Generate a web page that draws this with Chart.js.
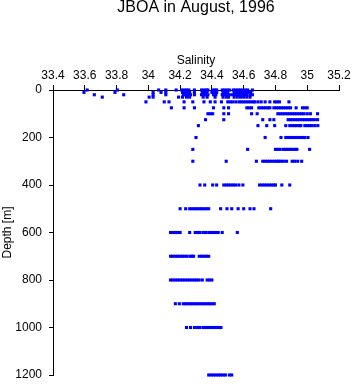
<!DOCTYPE html>
<html>
<head>
<meta charset="utf-8">
<script src="https://cdn.jsdelivr.net/npm/chart.js@4/dist/chart.umd.min.js"></script>
<style>
  html, body { margin: 0; padding: 0; background: #ffffff; }
  #wrap { width: 353px; height: 384px; }
</style>
</head>
<body>
<div id="wrap"><canvas id="c" width="353" height="384"></canvas></div>
<script>
const depthLevels = [0, 10, 20, 30, 50, 75, 100, 125, 150, 200, 250, 300, 400, 500, 600, 700, 800, 900, 1000, 1200];

const sal0 = [33.615, 33.805, 34.065, 34.11, 34.175, 34.21, 34.225, 34.24, 34.255, 34.29, 34.335, 34.35, 34.365, 34.375, 34.405, 34.42, 34.43, 34.465, 34.48, 34.495, 34.51, 34.535, 34.55, 34.565, 34.58, 34.595, 34.61, 34.625, 34.655];
const sal10 = [33.595, 33.79, 34.03, 34.08, 34.11, 34.215, 34.23, 34.245, 34.26, 34.29, 34.34, 34.355, 34.37, 34.40, 34.415, 34.43, 34.47, 34.485, 34.50, 34.54, 34.555, 34.57, 34.585, 34.60, 34.615, 34.63, 34.645];
const sal20 = [33.66, 33.845, 34.03, 34.11, 34.22, 34.235, 34.25, 34.265, 34.29, 34.335, 34.35, 34.36, 34.375, 34.41, 34.425, 34.465, 34.48, 34.495, 34.51, 34.53, 34.545, 34.56, 34.575, 34.59, 34.605, 34.62, 34.64, 34.655];
const sal30 = [33.71, 34.005, 34.03, 34.19, 34.215, 34.24, 34.26, 34.345, 34.37, 34.42, 34.47, 34.49, 34.505, 34.54, 34.56, 34.58, 34.60, 34.62, 34.64];
const sal50 = [33.985, 34.10, 34.13, 34.225, 34.28, 34.35, 34.39, 34.42, 34.46, 34.50, 34.515, 34.53, 34.55, 34.57, 34.585, 34.60, 34.615, 34.63, 34.645, 34.66, 34.67, 34.69, 34.71, 34.735, 34.765, 34.795, 34.81, 34.825, 34.885];
const sal75 = [34.145, 34.225, 34.29, 34.41, 34.475, 34.505, 34.62, 34.635, 34.65, 34.695, 34.71, 34.725, 34.74, 34.755, 34.765, 34.79, 34.805, 34.82, 34.835, 34.85, 34.865, 34.88, 34.895, 34.93, 34.97, 34.985, 35.0];
const sal100 = [34.375, 34.39, 34.405, 34.475, 34.505, 34.65, 34.685, 34.815, 34.83, 34.845, 34.86, 34.875, 34.89, 34.905, 34.92, 34.935, 34.95, 34.965, 34.98, 35.0, 35.02, 35.065];
const sal125 = [34.36, 34.475, 34.72, 34.765, 34.79, 34.88, 34.895, 34.91, 34.925, 34.94, 34.955, 34.97, 34.985, 35.0, 35.015, 35.03, 35.045, 35.065];
const sal150 = [34.315, 34.69, 34.745, 34.795, 34.865, 34.89, 34.905, 34.92, 34.935, 34.95, 34.96, 34.985, 35.0, 35.015, 35.03, 35.048, 35.067];
const sal200 = [34.30, 34.735, 34.835, 34.865, 34.88, 34.895, 34.91, 34.925, 34.94, 34.955, 34.97, 34.985, 35.005];
const sal250 = [34.28, 34.625, 34.80, 34.815, 34.83, 34.85, 34.865, 34.88, 34.895, 34.91, 34.925, 34.935, 35.015];
const sal300 = [34.28, 34.49, 34.68, 34.72, 34.735, 34.75, 34.765, 34.78, 34.795, 34.81, 34.82, 34.835, 34.85, 34.87, 34.905, 34.92, 34.94, 34.965];
const sal400 = [34.325, 34.355, 34.405, 34.43, 34.475, 34.49, 34.505, 34.52, 34.535, 34.55, 34.57, 34.595, 34.70, 34.715, 34.73, 34.745, 34.76, 34.775, 34.79, 34.80, 34.84, 34.89];
const sal500 = [34.20, 34.235, 34.26, 34.275, 34.29, 34.305, 34.32, 34.335, 34.35, 34.365, 34.38, 34.455, 34.495, 34.525, 34.565, 34.60, 34.64, 34.665, 34.77];
const sal600 = [34.14, 34.155, 34.17, 34.185, 34.20, 34.26, 34.295, 34.31, 34.325, 34.345, 34.36, 34.38, 34.395, 34.41, 34.425, 34.44, 34.465, 34.56];
const sal700 = [34.14, 34.155, 34.17, 34.185, 34.20, 34.215, 34.23, 34.245, 34.265, 34.275, 34.285, 34.32, 34.335, 34.35, 34.365, 34.38];
const sal800 = [34.14, 34.155, 34.17, 34.185, 34.20, 34.215, 34.23, 34.245, 34.26, 34.275, 34.29, 34.305, 34.32, 34.34, 34.37, 34.385, 34.40];
const sal900 = [34.17, 34.195, 34.22, 34.235, 34.25, 34.265, 34.28, 34.295, 34.31, 34.325, 34.34, 34.355, 34.37, 34.385, 34.40, 34.415];
const sal1000 = [34.24, 34.265, 34.29, 34.31, 34.325, 34.345, 34.36, 34.375, 34.39, 34.405, 34.42, 34.435, 34.45, 34.457];
const sal1200 = [34.38, 34.395, 34.41, 34.425, 34.44, 34.455, 34.47, 34.485, 34.51, 34.525];

const salinityByLevel = [sal0, sal10, sal20, sal30, sal50, sal75, sal100, sal125, sal150, sal200, sal250, sal300, sal400, sal500, sal600, sal700, sal800, sal900, sal1000, sal1200];

const xTicks = [33.4, 33.6, 33.8, 34, 34.2, 34.4, 34.6, 34.8, 35, 35.2];
const yTicks = [0, 200, 400, 600, 800, 1000, 1200];

// ---- Build points ----
const points = [];
depthLevels.forEach((d, i) => {
  salinityByLevel[i].forEach(s => points.push({ x: s, y: d }));
});

const FONT = "'Liberation Sans', Arial, Helvetica, sans-serif";

new Chart(document.getElementById('c'), {
  type: 'scatter',
  data: {
    datasets: [{
      data: points,
      pointStyle: 'rect',
      pointRadius: 2.2,
      pointHoverRadius: 2.2,
      backgroundColor: '#0000ff',
      borderWidth: 0,
      clip: false
    }]
  },
  options: {
    responsive: false,
    animation: false,
    events: [],
    layout: { padding: { left: 0, right: 14, top: 0, bottom: 9 } },
    plugins: {
      legend: { display: false },
      tooltip: { enabled: false },
      title: {
        display: true,
        text: 'JBOA in August, 1996',
        color: '#000000',
        fullSize: false,
        font: { family: FONT, size: 16, weight: 'normal', lineHeight: 1 },
        padding: { top: 0, bottom: 0 }
      }
    },
    scales: {
      x: {
        type: 'linear',
        position: 'top',
        min: 33.4,
        max: 35.2,
        afterBuildTicks: (scale) => { scale.ticks = xTicks.map(v => ({ value: v })); },
        afterFit: (scale) => { scale.height = 74; scale.paddingLeft = 0; scale.paddingRight = 0; },
        ticks: {
          color: '#000000',
          font: { family: FONT, size: 12 },
          padding: 2,
          maxRotation: 0,
          autoSkip: false,
          callback: (v) => String(+Number(v).toFixed(1))
        },
        grid: {
          drawOnChartArea: false,
          drawTicks: true,
          tickLength: 5,
          color: '#000000',
          lineWidth: 1
        },
        border: { display: true, color: '#000000', width: 1 },
        title: {
          display: true,
          text: 'Salinity',
          color: '#000000',
          font: { family: FONT, size: 12 },
          padding: { top: 37, bottom: 0 }
        }
      },
      y: {
        type: 'linear',
        position: 'left',
        reverse: true,
        min: 0,
        max: 1200,
        afterBuildTicks: (scale) => { scale.ticks = yTicks.map(v => ({ value: v })); },
        afterFit: (scale) => { scale.width = 53; scale.paddingTop = 0; scale.paddingBottom = 0; },
        ticks: {
          color: '#000000',
          font: { family: FONT, size: 12 },
          padding: 7,
          autoSkip: false,
          callback: (v) => String(v)
        },
        grid: {
          drawOnChartArea: false,
          drawTicks: true,
          tickLength: 4,
          color: '#000000',
          lineWidth: 1
        },
        border: { display: true, color: '#000000', width: 1 },
        title: {
          display: true,
          text: 'Depth [m]',
          color: '#000000',
          font: { family: FONT, size: 12 },
          padding: { top: 0, bottom: 0 }
        }
      }
    }
  }
});
</script>
</body>
</html>
